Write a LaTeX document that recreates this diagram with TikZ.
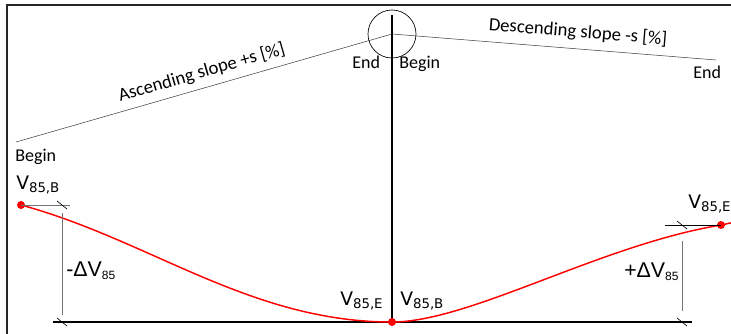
\documentclass[tikz,border=0pt]{standalone}
\usepackage{fontspec}
\setmainfont{Carlito}
\newfontfamily\symfont{DejaVu Sans}
\newfontfamily\deltafont{Liberation Sans}
\usetikzlibrary{positioning}

% speed label with lowered index
\newcommand{\vsub}[3]{#2\raisebox{-0.35ex}{\fontsize{#1}{12}\selectfont #3}}

\begin{document}
\begin{tikzpicture}[
    x=0.75pt, y=-0.75pt,
    every node/.style={font=\fontsize{13.5}{15}\selectfont, inner sep=0pt},
    frame/.style={draw=black!85, line width=1.5pt},
    slopeline/.style={draw=black!75, line width=0.4pt},
    slopetext/.style={font=\fontsize{14}{16}\selectfont, sloped, above=5pt},
    axis/.style={draw=black, line width=0.9pt},
    dimline/.style={draw=black!55, line width=0.4pt},
    tick/.style={draw=black, line width=0.5pt},
    speed/.style={draw=red, line width=1.1pt},
    spot/.style={circle, fill=red, minimum size=6pt, inner sep=0pt},
    endlabel/.style={anchor=base west},
    vlabel/.style={font=\symfont\fontsize{14}{16}\selectfont, anchor=base west},
    dvlabel/.style={font=\deltafont\fontsize{16}{18}\selectfont, anchor=base west},
]
\useasboundingbox (0,0) rectangle (731,333);
\draw[frame] (7,5) rectangle (760,360);

% grade profile
\coordinate (ascB) at (16,142);
\coordinate (crest) at (392,34);
\coordinate (descE) at (716,60);
\draw[slopeline] (ascB) -- node[slopetext, pos=0.505] {Ascending slope +s [\%]} (crest);
\draw[slopeline] (crest) -- node[slopetext, pos=0.57, above=6pt] {Descending slope -s [\%]} (descE);
\node[draw, circle, line width=0.5pt, minimum size=36pt] (crestring) at (crest) {};
\node[endlabel] (ascBegin) at (15,161) {Begin};
\node[endlabel] (ascEnd) at (352,68) {End};
\node[endlabel] (descBegin) at (399,68) {Begin};
\node[endlabel] (descEnd) at (693,78) {End};

% axes
\coordinate (vtop) at (392,15);
\coordinate (vbot) at (392,322);
\coordinate (baseL) at (53,322);
\coordinate (baseR) at (692,322);
\draw[axis] (vtop) -- (vbot);
\draw[axis] (baseL) -- (baseR);

% speed profile
\node[spot] (vB) at (21,205) {};
\node[spot] (vMid) at (392,322) {};
\node[spot] (vE) at (721,225) {};
\coordinate (vOut) at (740,221);
\draw[speed] (vB.center) .. controls (150,240) and (250,322) .. (vMid.center)
    .. controls (470,322) and (600,245) .. (vE.center) -- (vOut);

% dimension lines
\coordinate (dimLtop) at (62,205);
\coordinate (dimLbot) at (62,322);
\coordinate (dimRtop) at (682,225);
\coordinate (dimRbot) at (682,322);
\draw[dimline] (vB.center) -- ([xshift=6]dimLtop);
\draw[dimline] ([yshift=-6]dimLtop) -- ([yshift=5]dimLbot);
\draw[axis, line width=0.6pt] ([xshift=-13]dimRtop) -- (vE.center);
\draw[dimline] ([yshift=-12]dimRtop) -- ([yshift=8]dimRbot);
\foreach \p in {dimLtop,dimLbot,dimRtop,dimRbot}
    \draw[tick] ([shift={(-5,-4)}]\p) -- ([shift={(5,4)}]\p);

% speed labels
\node[vlabel] (lblB) at (16,189) {\vsub{10}{V}{85,B}};
\node[dvlabel] (lblDm) at (66,276) {\vsub{9}{-ΔV}{85}};
\node[vlabel] (lblEmid) at (340,305) {\vsub{10}{V}{85,E}};
\node[vlabel] (lblBmid) at (400,305) {\vsub{10}{V}{85,B}};
\node[dvlabel] (lblDp) at (624,277) {\vsub{9}{+ΔV}{85}};
\node[vlabel] (lblE) at (688,208) {\vsub{10}{V}{85,E}};
\end{tikzpicture}
\end{document}
